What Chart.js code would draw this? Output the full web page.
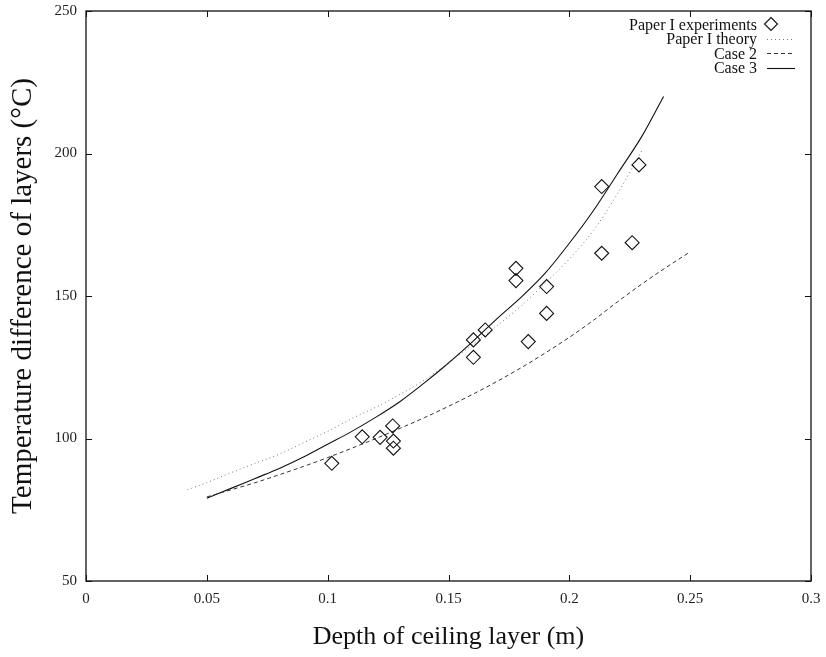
<!DOCTYPE html>
<html>
<head>
<meta charset="utf-8">
<script src="https://cdn.jsdelivr.net/npm/chart.js@4"></script>
<style>
html,body{margin:0;padding:0;background:#fff;}
#wrap{width:826px;height:657px;position:relative;}
</style>
</head>
<body>
<div id="wrap"><canvas id="c" width="826" height="657"></canvas></div>
<script>
// ---- data ----
const expDepth = [0.1017,0.1143,0.1217,0.1269,0.1272,0.1272,0.1603,0.1603,0.1652,0.1779,0.1779,0.183,0.1906,0.1906,0.2134,0.2134,0.226,0.2288];
const expTemp  = [91.3,100.6,100.4,104.4,99.1,96.6,134.6,128.5,138.1,159.7,155.4,134.0,153.3,143.9,188.4,165.0,168.7,196.0];

const theoryDepth = [0.042,0.05,0.06,0.07,0.08,0.09,0.10,0.11,0.12,0.13,0.14,0.15,0.16,0.17,0.18,0.19,0.20,0.21,0.22,0.23];
const theoryTemp  = [82.0,84.5,88.0,91.3,94.5,98.5,102.5,107.0,111.0,115.5,120.5,126.5,133.0,139.5,146.5,154.5,163.0,173.0,186.0,201.0];

const case2Depth = [0.05,0.06,0.07,0.08,0.09,0.10,0.11,0.12,0.13,0.14,0.15,0.16,0.17,0.18,0.19,0.20,0.21,0.22,0.23,0.24,0.25];
const case2Temp  = [79.5,82.0,84.5,87.3,90.2,93.3,96.6,100.0,103.6,107.3,111.3,115.5,120.0,124.8,130.0,135.5,141.5,148.0,154.2,160.0,165.5];

const case3Depth = [0.05,0.06,0.07,0.08,0.09,0.10,0.11,0.12,0.13,0.14,0.15,0.16,0.17,0.18,0.19,0.20,0.21,0.22,0.23,0.239];
const case3Temp  = [79.0,82.5,86.0,89.5,93.5,98.0,102.5,107.5,113.0,119.5,126.5,134.0,142.0,149.5,158.0,168.5,180.0,193.0,206.0,220.0];

const seriesNames = ["Paper I experiments","Paper I theory","Case 2","Case 3"];
const xTickValues = [0,0.05,0.1,0.15,0.2,0.25,0.3];
const yTickValues = [50,100,150,200,250];

const pts = (xs, ys) => xs.map((x,i)=>({x:x, y:ys[i]}));
const FONT = "'Liberation Serif','Times New Roman',serif";

const framePlugin = {
  id:'frame',
  afterDraw(chart){
    const {ctx, chartArea:a, scales} = chart;
    const xs = scales.x, ys = scales.y;
    ctx.save();
    ctx.strokeStyle = '#111';
    ctx.lineWidth = 1.3;
    ctx.strokeRect(a.left, a.top, a.width, a.height);
    ctx.lineWidth = 1;
    const L = 6;
    xTickValues.forEach(v=>{
      const p = Math.round(xs.getPixelForValue(v))+0.5;
      ctx.beginPath(); ctx.moveTo(p,a.bottom); ctx.lineTo(p,a.bottom-L); ctx.stroke();
      ctx.beginPath(); ctx.moveTo(p,a.top); ctx.lineTo(p,a.top+L); ctx.stroke();
    });
    yTickValues.forEach(v=>{
      const p = Math.round(ys.getPixelForValue(v))+0.5;
      ctx.beginPath(); ctx.moveTo(a.left,p); ctx.lineTo(a.left+L,p); ctx.stroke();
      ctx.beginPath(); ctx.moveTo(a.right,p); ctx.lineTo(a.right-L,p); ctx.stroke();
    });
    // legend
    ctx.font = "16px " + FONT;
    ctx.fillStyle = '#111';
    ctx.textAlign = 'right';
    ctx.textBaseline = 'middle';
    const rowsY = [25.5,40,54.5,69];
    const textRight = 757;
    chart.data.datasets.forEach((ds,i)=>{
      const yy = rowsY[i];
      ctx.fillText(ds.label, textRight, yy);
      ctx.save();
      ctx.strokeStyle = ds.borderColor;
      const my = yy - 1.5;
      if (i===0){
        ctx.lineWidth = 1.1;
        const cx=771, r=6.5;
        ctx.beginPath(); ctx.moveTo(cx,my-r); ctx.lineTo(cx+r,my); ctx.lineTo(cx,my+r); ctx.lineTo(cx-r,my); ctx.closePath(); ctx.stroke();
      } else {
        ctx.lineWidth = ds.borderWidth;
        ctx.setLineDash(ds.borderDash || []);
        ctx.beginPath(); ctx.moveTo(767,Math.round(my)+0.5); ctx.lineTo(795,Math.round(my)+0.5); ctx.stroke();
      }
      ctx.restore();
    });
    ctx.restore();
  }
};

new Chart(document.getElementById('c'), {
  type:'scatter',
  data:{
    datasets:[
      {label:seriesNames[0], data:pts(expDepth,expTemp), showLine:false,
       pointStyle:'rectRot', pointRadius:7, pointHoverRadius:7, borderColor:'#111', backgroundColor:'rgba(0,0,0,0)', borderWidth:1.1},
      {label:seriesNames[1], data:pts(theoryDepth,theoryTemp), showLine:true, pointRadius:0,
       borderColor:'#777', borderWidth:1, borderDash:[1,3], tension:0.3, cubicInterpolationMode:'monotone'},
      {label:seriesNames[2], data:pts(case2Depth,case2Temp), showLine:true, pointRadius:0,
       borderColor:'#333', borderWidth:1, borderDash:[4,3], tension:0.3, cubicInterpolationMode:'monotone'},
      {label:seriesNames[3], data:pts(case3Depth,case3Temp), showLine:true, pointRadius:0,
       borderColor:'#111', borderWidth:1.1, tension:0.3, cubicInterpolationMode:'monotone'}
    ]
  },
  options:{
    responsive:false, animation:false, devicePixelRatio:1,
    layout:{padding:{left:0,top:11,right:15,bottom:0}},
    plugins:{legend:{display:false}, tooltip:{enabled:false}},
    scales:{
      x:{type:'linear', min:0, max:0.3,
         afterBuildTicks(s){ s.ticks = xTickValues.map(v=>({value:v})); },
         afterFit(s){ s.height = 76; s.paddingLeft = 0; s.paddingRight = 0; },
         grid:{display:false, drawTicks:false},
         border:{display:false},
         ticks:{padding:9, color:'#222', font:{family:FONT, size:15}, callback:v=>String(+v.toFixed(2))},
         title:{display:true, text:'Depth of ceiling layer (m)', color:'#111', font:{family:FONT, size:26}, padding:{top:4}}
      },
      y:{type:'linear', min:50, max:250,
         afterBuildTicks(s){ s.ticks = yTickValues.map(v=>({value:v})); },
         afterFit(s){ s.width = 86; s.paddingTop = 0; s.paddingBottom = 0; },
         grid:{display:false, drawTicks:false},
         border:{display:false},
         ticks:{padding:9, color:'#222', font:{family:FONT, size:15}},
         title:{display:true, text:'Temperature difference of layers (°C)', color:'#111', font:{family:FONT, size:29}, padding:{top:6,bottom:2}}
      }
    }
  },
  plugins:[framePlugin]
});
</script>
</body>
</html>
